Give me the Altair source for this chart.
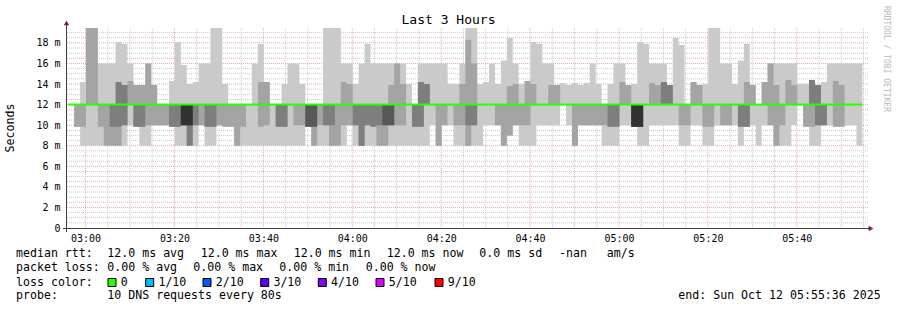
import altair as alt
import pandas as pd

FONT = "DejaVu Sans Mono"

# ---------------- data (ms) : 10 sorted pings per 80 s step ----------------
p1 = [
9.85, 8, 8, 8, 8, 8, 8, 8, 8, 10,
9.85, 8, 8, 10, 10, 10, 9.85, 8, 8, 8,
8, 10, 8, 8, 10, 9.85, 9.85, 8, 8, 8,
8, 8, 8, 8, 8, 8, 8, 8, 8, 9.85,
8, 8, 8, 8, 8, 8, 10, 8, 8, 8,
8, 8, 8, 8, 8, 8, 8, 8, 8, 8,
10, 8, 10, 10, 8, 8, 8, 8, 8, 10,
10, 10, 8, 9, 10, 8, 8, 8, 10, 10,
10, 10, 12, 10, 8, 10, 10, 10, 10, 8,
8, 8, 10, 10, 9.85, 8, 8, 10, 10, 10,
10, 10, 8, 8, 10, 10, 8, 8, 10, 10,
10, 10, 8, 9.85, 10, 8, 10, 10, 8, 8,
8, 10, 12, 9.85, 8, 8, 10, 10, 9.85, 9.85,
10, 10, 8]
p2 = [
9.85, 9.85, 12, 12, 9.85, 8, 8, 8, 10, 12,
9.85, 9.85, 10, 10, 10, 10, 9.85, 9.85, 10, 8,
10, 10, 9.85, 9.85, 10, 9.85, 9.85, 8, 9.85, 12,
12, 9.85, 10, 12, 9.85, 9.85, 12, 10, 10, 9.85,
8, 10, 10, 8, 8, 10, 10, 10, 8, 10,
9.85, 8, 8, 10, 10, 10, 12, 9.85, 9.85, 12,
12, 8, 10, 12, 10, 10, 8, 10, 12, 12,
12, 10, 8, 9, 10, 10, 10, 12, 12, 12,
12, 12, 12, 12, 8, 10, 10, 10, 10, 10,
9.85, 9.85, 12, 12, 9.85, 9.85, 12, 12, 12, 12,
12, 12, 10, 10, 12, 12, 9.85, 9.85, 12, 10,
10, 12, 9.85, 9.85, 12, 12, 12, 10, 8, 10,
12, 12, 12, 9.85, 9.85, 10, 10, 12, 9.85, 9.85,
12, 12, 12]
p3 = [
12, 12, 12, 12, 12, 12, 9.85, 9.85, 10, 12,
9.85, 9.85, 12, 12, 12, 12, 9.85, 9.85, 10, 8,
10, 12, 9.85, 9.85, 12, 12, 12, 12, 12, 12,
12, 12, 12, 12, 9.85, 9.85, 12, 12, 12, 9.85,
9.85, 12, 10, 10, 12, 12, 12, 10, 8, 10,
9.85, 10, 10, 10, 12, 12, 12, 9.85, 9.85, 12,
12, 12, 12, 12, 12, 12, 10, 10, 12, 12,
12, 12, 12, 12, 12, 12, 12, 12, 12, 12,
12, 12, 12, 12, 12, 12, 12, 12, 12, 12,
9.85, 9.85, 12, 12, 9.85, 9.85, 12, 12, 12, 12,
12, 12, 12, 12, 12, 12, 12, 12, 12, 12,
12, 12, 9.85, 9.85, 12, 12, 12, 12, 12, 12,
12, 12, 12, 12, 12, 10, 10, 12, 12, 12,
12, 12, 12]
p4 = [
12, 12, 12, 12, 12, 12, 12, 12, 12, 12,
12, 12, 12, 12, 12, 12, 12, 12, 10, 10,
12, 12, 12, 12, 12, 12, 12, 12, 12, 12,
12, 12, 12, 12, 12, 12, 12, 12, 12, 9.85,
9.85, 12, 12, 12, 12, 12, 12, 12, 12, 12,
12, 12, 10, 10, 12, 12, 12, 12, 12, 12,
12, 12, 12, 12, 12, 12, 12, 12, 12, 12,
12, 12, 12, 12, 12, 12, 12, 12, 12, 12,
12, 12, 12, 12, 12, 12, 12, 12, 12, 12,
12, 12, 12, 12, 9.85, 9.85, 12, 12, 12, 12,
12, 12, 12, 12, 12, 12, 12, 12, 12, 12,
12, 12, 12, 12, 12, 12, 12, 12, 12, 12,
12, 12, 12, 12, 12, 12, 12, 12, 12, 12,
12, 12, 12]
p5 = [
12, 12, 12, 12, 12, 12, 12, 12, 12, 12,
12, 12, 12, 12, 12, 12, 12, 12, 10, 10,
12, 12, 12, 12, 12, 12, 12, 12, 12, 12,
12, 12, 12, 12, 12, 12, 12, 12, 12, 12,
12, 12, 12, 12, 12, 12, 12, 12, 12, 12,
12, 12, 12, 12, 12, 12, 12, 12, 12, 12,
12, 12, 12, 12, 12, 12, 12, 12, 12, 12,
12, 12, 12, 12, 12, 12, 12, 12, 12, 12,
12, 12, 12, 12, 12, 12, 12, 12, 12, 12,
12, 12, 12, 12, 9.85, 9.85, 12, 12, 12, 12,
12, 12, 12, 12, 12, 12, 12, 12, 12, 12,
12, 12, 12, 12, 12, 12, 12, 12, 12, 12,
12, 12, 12, 12, 12, 12, 12, 12, 12, 12,
12, 12, 12]
p6 = [
12, 12, 12, 12, 12, 12, 12, 12, 12, 12,
12, 12, 12, 12, 12, 12, 12, 12, 12, 12,
12, 12, 12, 12, 12, 12, 12, 12, 12, 12,
12, 12, 12, 12, 12, 12, 12, 12, 12, 12,
12, 12, 12, 12, 12, 12, 12, 12, 12, 12,
12, 12, 12, 12, 12, 12, 12, 12, 12, 12,
12, 12, 12, 12, 12, 12, 12, 12, 12, 12,
12, 12, 12, 12, 12, 12, 12, 12, 12, 12,
12, 12, 12, 12, 12, 12, 12, 12, 12, 12,
12, 12, 12, 12, 12, 12, 12, 12, 12, 12,
12, 12, 12, 12, 12, 12, 12, 12, 12, 12,
12, 12, 12, 12, 12, 12, 12, 12, 12, 12,
12, 12, 12, 12, 12, 12, 12, 12, 12, 12,
12, 12, 12]
p7 = list(p6)
p8 = [
12, 12, 12, 12, 12, 12, 12, 14.2, 13.9, 12,
12, 12, 12, 12, 12, 12, 12, 12, 12, 12,
12, 12, 12, 12, 12, 12, 12, 12, 12, 12,
12, 12, 12, 12, 12, 12, 12, 12, 12, 12,
12, 12, 12, 12, 12, 12, 12, 12, 12, 12,
12, 12, 12, 12, 12, 12, 12, 12, 14.2, 14,
12, 12, 12, 12, 12, 12, 12, 12, 12, 12,
12, 12, 12, 12, 12, 12, 12, 12, 12, 12,
12, 12, 12, 12, 12, 12, 12, 12, 12, 12,
12, 12, 12, 12, 12, 12, 12, 12, 12, 14.2,
13.9, 12, 12, 12, 12, 12, 12, 12, 12, 12,
12, 12, 12, 12, 12, 12, 12, 12, 12, 12,
12, 12, 12, 12, 14.4, 13.9, 12, 12, 12, 12,
12, 12, 12]
p9 = [
12, 12, 19.45, 19.45, 12, 12, 12, 14.2, 13.9, 14.3,
13.9, 13.9, 16, 13.9, 12, 12, 12, 12, 12, 12,
12, 12, 12, 12, 12, 12, 12, 12, 12, 12,
12, 14.2, 14.2, 12, 12, 12, 12, 12, 12, 12,
12, 12, 12, 12, 12, 14.2, 14, 12, 12, 12,
12, 12, 12, 13.9, 16, 14, 12, 12, 14.2, 14,
12, 12, 12, 12, 12, 14, 18.3, 16, 12, 12,
12, 12, 12, 13.8, 14, 12, 14.3, 14, 12, 12,
13.9, 13.9, 12, 12, 12, 12, 12, 12, 12, 12,
12, 12, 14.2, 13.9, 12, 12, 12, 14.1, 13.9, 14.2,
13.9, 12, 12, 12, 14.2, 13.9, 12, 12, 12, 12,
12, 12, 12, 14.2, 13.9, 12, 14.2, 16, 13.9, 12,
14.4, 13.9, 12, 12, 14.4, 13.9, 12, 12, 14.3, 13.9,
12, 12, 12]
p10 = [
12, 14.2, 19.45, 19.45, 16, 16, 16, 18.1, 17.9, 16,
13.9, 13.9, 16, 13.9, 12, 12, 14.3, 18.1, 15.85, 14,
14.2, 16, 16, 19.45, 19.45, 14, 12, 12, 12, 12,
16, 17.9, 14.2, 12, 12, 14, 16, 16, 14, 12,
12, 12, 19.45, 19.45, 19.45, 16, 16, 14, 16, 17.9,
16, 16, 16, 16, 16, 16, 14, 12, 16, 16,
16, 16, 16, 14, 14, 16, 19.45, 19.45, 14, 14.2,
16, 14, 16.3, 18.5, 16, 14, 14.3, 18.1, 17.9, 16,
16, 13.9, 14.1, 13.9, 14.1, 13.9, 14.1, 16, 14, 12,
14, 16, 16, 13.9, 14, 18.1, 17.9, 16, 16, 16,
13.9, 18.5, 17.8, 12, 14.2, 13.9, 14, 19.45, 19.45, 16,
16, 14, 16.3, 17.9, 13.9, 12, 14.2, 16, 16, 16,
16, 16, 14, 14, 14.4, 13.9, 14.2, 16, 16, 16,
16, 16, 16]
# median rtt per step (first value is the step before the first smoke step)
median_rtt = [
12, 12, 12, 12, 12, 12, 12, 12, 12, 12,
12, 12, 12, 12, 12, 12, 12, 12, 12, 12,
12, 12, 12, 12, 12, 12, 12, 12, 12, 12,
12, 12, 12, 12, 12, 12, 12, 12, 12, 12,
12, 12, 12, 12, 12, 12, 12, 12, 12, 12,
12, 12, 12, 12, 12, 12, 12, 12, 12, 12,
12, 12, 12, 12, 12, 12, 12, 12, 12, 12,
12, 12, 12, 12, 12, 12, 12, 12, 12, 12,
12, 12, 12, 12, 12, 12, 12, 12, 12, 12,
12, 12, 12, 12, 12, 12, 12, 12, 12, 12,
12, 12, 12, 12, 12, 12, 12, 12, 12, 12,
12, 12, 12, 12, 12, 12, 12, 12, 12, 12,
12, 12, 12, 12, 12, 12, 12, 12, 12, 12,
12, 12, 12, 12]

loss_labels = ["0", "1/10", "2/10", "3/10", "4/10", "5/10", "9/10"]
loss_colors = ["#26ff00", "#00b8ff", "#0059ff", "#5e00ff", "#7e00ff", "#dd00ff", "#ff0000"]
smoke_grays = ["#cacaca", "#a4a4a4", "#7e7e7e", "#585858", "#323232"]
x_tick_minutes = [0, 20, 40, 60, 80, 100, 120, 140, 160]   # minutes after 03:00
y_tick_ms = [0, 2, 4, 6, 8, 10, 12, 14, 16, 18]

# ---------------- layout ----------------
W, H = 801, 200
LEFT, TOP = 67, 28
X_DOMAIN = [-4.18, 176.02]
Y_DOMAIN = [0, 19.45]
STEP = 80 / 60.0
T0 = -2.57

xs = alt.Scale(domain=X_DOMAIN, nice=False, zero=False)
ys = alt.Scale(domain=Y_DOMAIN, nice=False, zero=False)

X_AXIS = alt.Axis(
    values=x_tick_minutes, title=None, grid=False, domain=False, ticks=False,
    labelExpr="timeFormat(datetime(2025, 9, 12, 3, datum.value, 0), '%H:%M')",
    labelFont=FONT, labelFontSize=10, labelColor="black", labelPadding=5,
    labelFlush=False, labelOverlap=False)
Y_AXIS = alt.Axis(
    values=y_tick_ms, title=None, grid=False, domain=False, ticks=False,
    labelExpr="datum.value == 0 ? '0\u00a0\u00a0' : datum.value + ' m'",
    labelFont=FONT, labelFontSize=10, labelColor="black", labelPadding=7,
    labelOverlap=False)


def X(field):
    return alt.X(field, scale=xs, axis=X_AXIS)


def Y(field):
    return alt.Y(field, scale=ys, axis=Y_AXIS)


P = [p1, p2, p3, p4, p5, p6, p7, p8, p9, p10]
n = len(p1)
rows = []
for k in range(n + 1):
    kk = min(k, n - 1)
    for i in range(5):
        rows.append({"t": T0 + k * STEP, "layer": i, "lo": P[i][kk], "hi": P[9 - i][kk]})
smoke_df = pd.DataFrame(rows)

med_df = pd.DataFrame([
    {"t": T0 + (k - 1) * STEP, "v": median_rtt[min(k, len(median_rtt) - 1)]}
    for k in range(len(median_rtt) + 1)
])

minor_x = pd.DataFrame({"v": [m for m in range(5, 180, 5) if m % 20 != 0]})
major_x = pd.DataFrame({"v": x_tick_minutes})
minor_y = pd.DataFrame({"v": [h / 2 for h in range(1, 39) if h % 4 != 0]})
major_y = pd.DataFrame({"v": y_tick_ms[1:]})
one = pd.DataFrame({"a": [0]})

GRID_MINOR = "#c8c8c8"
GRID_MAJOR = "#e8a8a8"
layers = [
    alt.Chart(minor_y).mark_rule(color=GRID_MINOR, strokeDash=[1, 1], strokeWidth=1)
    .encode(y=Y("v:Q")),
    alt.Chart(minor_x).mark_rule(color=GRID_MINOR, strokeDash=[1, 1], strokeWidth=1)
    .encode(x=X("v:Q")),
    alt.Chart(major_y).mark_rule(color=GRID_MAJOR, strokeDash=[1, 1], strokeWidth=1)
    .encode(y=Y("v:Q")),
    alt.Chart(major_x).mark_rule(color=GRID_MAJOR, strokeDash=[1, 1], strokeWidth=1)
    .encode(x=X("v:Q")),
]

for i in range(5):
    layers.append(
        alt.Chart(smoke_df).transform_filter(alt.datum.layer == i)
        .mark_area(interpolate="step-after", color=smoke_grays[i], opacity=1)
        .encode(x=X("t:Q"), y=Y("lo:Q"), y2="hi:Q")
    )

layers.append(
    alt.Chart(med_df).mark_line(interpolate="step-after", color=loss_colors[0], strokeWidth=2)
    .encode(x=X("t:Q"), y=Y("v:Q"))
)

AXIS_COL = "#404040"
ARROW_COL = "#7f1f1f"
layers += [
    alt.Chart(one).mark_rule(color=AXIS_COL, strokeWidth=1)
    .encode(x=alt.value(-4), x2=alt.value(W + 2), y=alt.value(H + 0.5)),
    alt.Chart(one).mark_rule(color=AXIS_COL, strokeWidth=1)
    .encode(x=alt.value(-0.5), y=alt.value(H + 4), y2=alt.value(-4)),
    alt.Chart(one).mark_point(shape="triangle-right", filled=True, size=30, color=ARROW_COL, opacity=1)
    .encode(x=alt.value(W + 3), y=alt.value(H + 0.5)),
    alt.Chart(one).mark_point(shape="triangle-up", filled=True, size=30, color=ARROW_COL, opacity=1)
    .encode(x=alt.value(-0.5), y=alt.value(-5)),
]


def txt(s, x, y, size=11.6, align="left", color="black", angle=0):
    return alt.Chart(one).mark_text(
        text=s, align=align, baseline="middle", font=FONT, fontSize=size,
        color=color, angle=angle
    ).encode(x=alt.value(x - LEFT), y=alt.value(y - TOP))


layers.append(txt("Last 3 Hours", 448.5, 20, size=13, align="center"))
layers.append(txt("Seconds", 11, 128, angle=270, align="center"))
layers.append(txt("RRDTOOL / TOBI OETIKER", 886, 59, size=8, align="center", color="#b8b8b8", angle=90))

line1 = [("median rtt:", 16), ("12.0 ms avg", 107.3), ("12.0 ms max", 200.7),
         ("12.0 ms min", 293.7), ("12.0 ms now", 386.7), ("0.0 ms sd", 479.3),
         ("-nan", 559), ("am/s", 606.7)]
line2 = [("packet loss:", 16), ("0.00 % avg", 107.3), ("0.00 % max", 193.3),
         ("0.00 % min", 279.3), ("0.00 % now", 365.7)]
for s, x in line1:
    layers.append(txt(s, x, 254))
for s, x in line2:
    layers.append(txt(s, x, 268))
layers.append(txt("loss color:", 16, 282.5))
box_x = [108, 145.7, 203, 260.7, 318.3, 376, 435]
for lab, col, bx in zip(loss_labels, loss_colors, box_x):
    layers.append(
        alt.Chart(one).mark_rect(fill=col, stroke="black", strokeWidth=1)
        .encode(x=alt.value(bx - LEFT), x2=alt.value(bx + 8 - LEFT),
                y=alt.value(278.5 - TOP), y2=alt.value(286.5 - TOP))
    )
    layers.append(txt(lab, bx + 12.7, 282.5))
layers.append(txt("probe:", 16, 296))
layers.append(txt("10 DNS requests every 80s", 107.3, 296))
layers.append(txt("end: Sun Oct 12 05:55:36 2025", 880.7, 296, align="right"))

chart = alt.layer(*layers).properties(
    width=W, height=H,
    padding={"left": LEFT, "top": TOP, "right": 897 - LEFT - W, "bottom": 310 - TOP - H},
    autosize=alt.AutoSizeParams(type="none"),
    background="white",
).configure_view(strokeWidth=0)

chart.save("out.html", embed_options={"renderer": "svg", "actions": False})
